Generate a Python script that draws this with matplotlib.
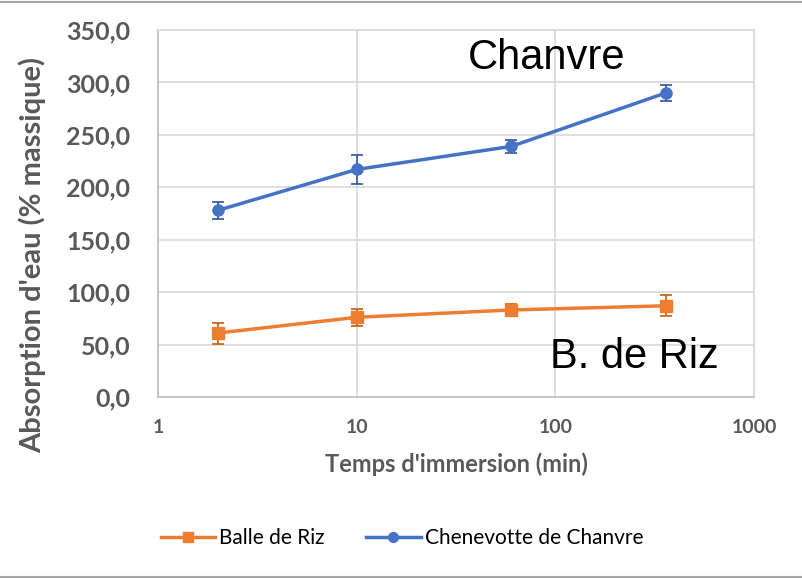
import matplotlib.pyplot as plt
from matplotlib.lines import Line2D

# data
temps = [2, 10, 60, 360]  # min
riz = [61, 76, 83, 87]
riz_err = [10, 8, 6, 10]
chanvre = [178, 217, 239, 290]
chanvre_err = [8, 13.5, 6.5, 8]

orange = '#ED7D31'
blue = '#4472C4'
grey_txt = '#595959'

fig = plt.figure(figsize=(8.02, 5.79), dpi=100)
ax = fig.add_axes([158/802, 1 - 397/579, (754-158)/802, (397-30)/579])

e1 = ax.errorbar(temps, riz, yerr=riz_err, color=orange, lw=2.5, marker='s', ms=8,
                 ecolor='#C55A11', elinewidth=1.2, capsize=4, capthick=1.2, zorder=3)
e2 = ax.errorbar(temps, chanvre, yerr=chanvre_err, color=blue, lw=2.5, marker='o', ms=8,
                 ecolor='#2F5597', elinewidth=1.2, capsize=4, capthick=1.2, zorder=3)

ax.set_xscale('log')
ax.set_xlim(1, 1000)
ax.set_ylim(0, 350)
ax.set_yticks(range(0, 351, 50))
ax.set_yticklabels([f'{v},0' for v in range(0, 351, 50)])
ax.set_xticks([1, 10, 100, 1000])
ax.set_xticklabels(['1', '10', '100', '1000'])
ax.minorticks_off()

ax.grid(True, color='#D9D9D9', lw=1.2)
ax.set_axisbelow(True)
for s in ax.spines.values():
    s.set_color('#D9D9D9')
    s.set_linewidth(1.2)
ax.spines['left'].set_color('#BFBFBF')
ax.spines['bottom'].set_color('#BFBFBF')
ax.tick_params(axis='y', length=0, pad=20)
ax.tick_params(axis='x', length=0, pad=16)
for lab in ax.get_yticklabels():
    lab.set_fontfamily('Lato')
    lab.set_fontweight('bold')
    lab.set_color(grey_txt)
    lab.set_fontsize(18)
for lab in ax.get_xticklabels():
    lab.set_fontfamily('Lato')
    lab.set_fontweight('bold')
    lab.set_color(grey_txt)
    lab.set_fontsize(14)

ax.set_xlabel("Temps d'immersion (min)", fontfamily='Lato', fontweight='bold',
              color=grey_txt, fontsize=17, labelpad=12)
ax.set_ylabel("Absorption d'eau (% massique)", fontfamily='Lato', fontweight='bold',
              color=grey_txt, fontsize=21)
ax.yaxis.set_label_coords((46 - 158) / 596, (397 - 255) / 367)

ax.text(0.652, 0.925, 'Chanvre', transform=ax.transAxes, ha='center', va='center',
        fontfamily='Liberation Sans', fontsize=30, color='black')
ax.text(0.8, 0.11, 'B. de Riz', transform=ax.transAxes, ha='center', va='center',
        fontfamily='Liberation Sans', fontsize=30, color='black')

handles = [Line2D([], [], color=orange, lw=2.5, marker='s', ms=7),
           Line2D([], [], color=blue, lw=2.5, marker='o', ms=7)]
fig.legend(handles, ['Balle de Riz', 'Chenevotte de Chanvre'], loc='center',
           bbox_to_anchor=(402/802, 1 - 538/579), ncol=2, frameon=False,
           prop={'family': 'Lato', 'size': 15},
           handlelength=2.6, columnspacing=2.0, handletextpad=0.2)

# chart border (top and bottom only visible)
fig.add_artist(Line2D([0, 1], [1 - 1.5/579, 1 - 1.5/579], transform=fig.transFigure,
                      color='#A6A6A6', lw=1.5))
fig.add_artist(Line2D([0, 1], [2/579, 2/579], transform=fig.transFigure,
                      color='#A6A6A6', lw=1.5))

fig.savefig('out.png', dpi=100)
